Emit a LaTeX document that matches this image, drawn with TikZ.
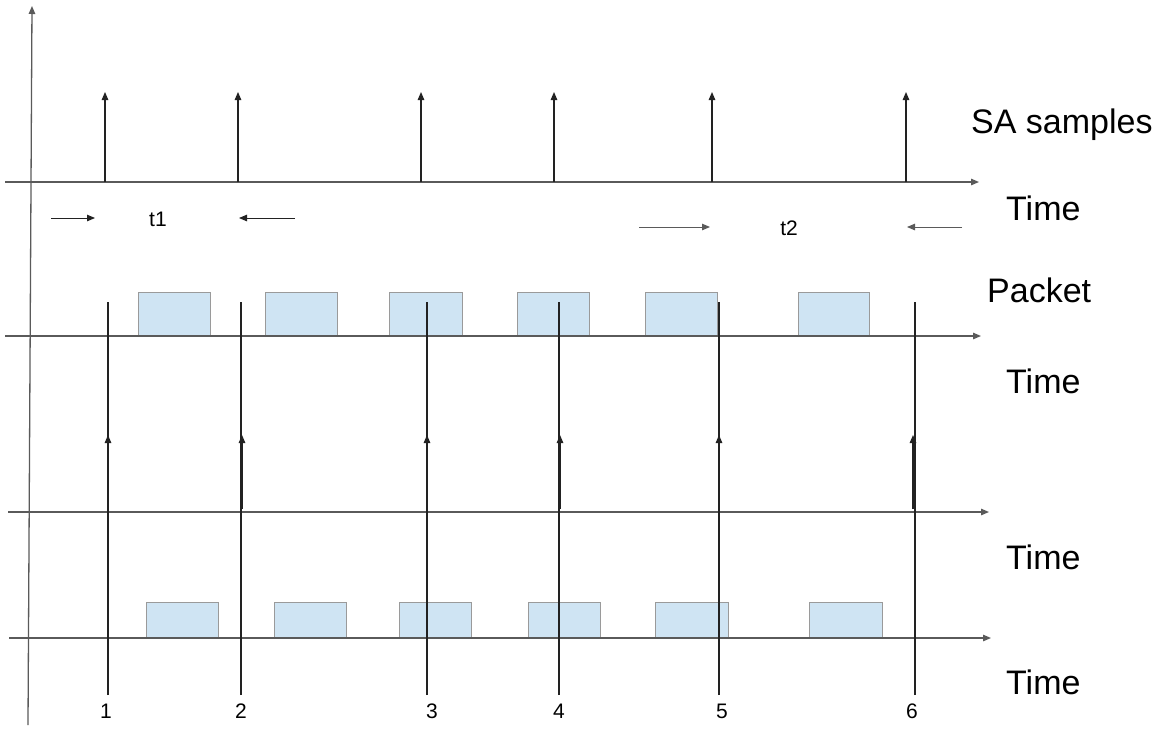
\documentclass[tikz,border=0pt]{standalone}
\usepackage{fontspec}
\setmainfont{Liberation Sans}
\usetikzlibrary{arrows.meta}
\definecolor{pktfill}{HTML}{CFE4F3}
\definecolor{pktdraw}{HTML}{9A9A9A}
\definecolor{axisc}{HTML}{5A5A5A}
\definecolor{linec}{HTML}{222222}
\begin{document}
\begin{tikzpicture}[x=1pt,y=-1pt,
  tip/.style={-{Triangle[length=8pt,width=6.5pt]}},
  axisline/.style={draw=axisc,line width=1.3pt,tip},
  sampline/.style={draw=linec,line width=1.2pt,tip},
  markline/.style={draw=linec,line width=1.2pt},
  pkt/.style={draw=pktdraw,fill=pktfill,line width=1pt},
  biglabel/.style={font=\fontsize{34}{40}\selectfont,anchor=base west,inner sep=0pt},
  smalllabel/.style={font=\fontsize{21}{25}\selectfont,anchor=base,inner sep=0pt}]
\useasboundingbox (0,0) rectangle (1176,729);

% vertical axis
\coordinate (vb) at (28,725);
\coordinate (vt) at (32,6);
\draw[axisline] (vb) -- (vt);

% time axes
\coordinate (a1s) at (5,182);  \coordinate (a1e) at (979,182);
\coordinate (a2s) at (5,336);  \coordinate (a2e) at (981,336);
\coordinate (a3s) at (8,512);  \coordinate (a3e) at (989,512);
\coordinate (a4s) at (9,638);  \coordinate (a4e) at (991,638);

% packets (top)
\foreach \l/\r in {138/210,265/337,389/462,517/589,645/717,798/869}
  \draw[pkt] (\l,336) rectangle (\r,292);
% packets (bottom)
\foreach \l/\r in {146/218,274/346,399/471,528/600,655/728,809/882}
  \draw[pkt] (\l,638) rectangle (\r,602);

\draw[axisline] (a1s) -- (a1e);
\draw[axisline] (a2s) -- (a2e);
\draw[axisline] (a3s) -- (a3e);
\draw[axisline] (a4s) -- (a4e);

% SA sample arrows
\foreach \x [count=\i] in {105,238,421,554,712,906} {
  \coordinate (sb\i) at (\x,182);
  \coordinate (st\i) at (\x,92);
  \draw[sampline] (sb\i) -- (st\i);
}

% long marker lines and arrows
\foreach \x/\d [count=\i] in {108/0,241/1,427/0,559/1,719/0,915/-2} {
  \coordinate (mb\i) at (\x,695);
  \coordinate (mt\i) at (\x,302);
  \draw[markline] (mb\i) -- (mt\i);
  \coordinate (ab\i) at (\x+\d,509);
  \coordinate (at\i) at (\x+\d,435);
  \draw[sampline] (ab\i) -- (at\i);
}

% t1 / t2 interval arrows
\coordinate (t1a) at (51,218); \coordinate (t1b) at (95,218);
\coordinate (t1c) at (295,218); \coordinate (t1d) at (239,218);
\draw[sampline,line width=1pt] (t1a) -- (t1b);
\draw[sampline,line width=1pt] (t1c) -- (t1d);
\coordinate (t2a) at (639,227); \coordinate (t2b) at (710,227);
\coordinate (t2c) at (962,227); \coordinate (t2d) at (907,227);
\draw[sampline,line width=1pt,draw=axisc] (t2a) -- (t2b);
\draw[sampline,line width=1pt,draw=axisc] (t2c) -- (t2d);
\node[smalllabel] (t1) at (158,226) {t1};
\node[smalllabel] (t2) at (789,235) {t2};

% numbers
\foreach \x/\n in {106/1,241/2,432/3,559/4,722/5,912/6}
  \node[smalllabel] (n\n) at (\x,718) {\n};

% right-hand labels
\node[biglabel] (sa) at (971,133) {SA samples};
\node[biglabel] (time1) at (1006,220) {Time};
\node[biglabel] (packet) at (987,302) {Packet};
\node[biglabel] (time2) at (1006,393) {Time};
\node[biglabel] (time3) at (1006,569) {Time};
\node[biglabel] (time4) at (1006,694) {Time};
\end{tikzpicture}
\end{document}
